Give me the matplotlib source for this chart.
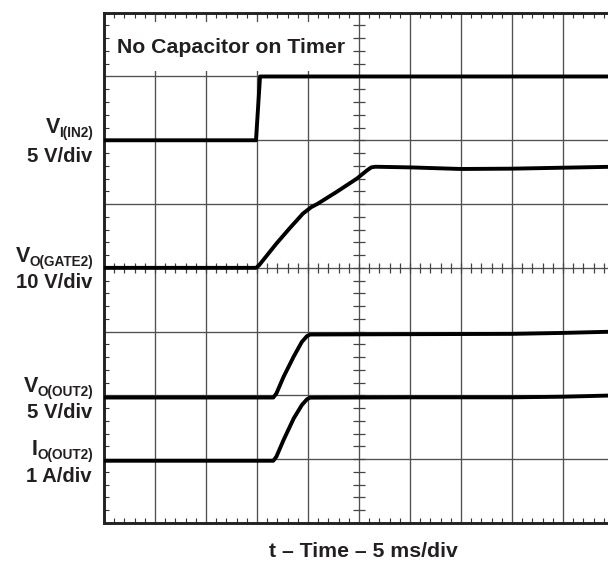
import numpy as np
import matplotlib
matplotlib.use('Agg')
import matplotlib.pyplot as plt
from matplotlib.ticker import MultipleLocator
from matplotlib.patches import Rectangle
from matplotlib.transforms import IdentityTransform

# ---- data: time in ms (5 ms/div), trace values in screen divisions ----
vin_t = [0, 14.9, 15.3, 50]
vin_y = [6.0, 6.0, 7.0, 7.0]

gate_t = [0, 14.9, 15.2, 15.6, 16.9, 18.2, 19.5, 20.3, 20.9, 22.8, 24.8, 25.8, 26.2, 26.6, 30, 35, 40, 45, 50]
gate_y = [4.0, 4.0, 4.04, 4.12, 4.38, 4.62, 4.85, 4.95, 5.0, 5.19, 5.40, 5.53, 5.575, 5.585, 5.575, 5.55, 5.555, 5.57, 5.585]

vout_t = [0, 16.6, 16.9, 17.6, 18.6, 19.4, 19.9, 20.2, 30, 40, 45, 50]
vout_y = [1.967, 1.967, 2.03, 2.29, 2.61, 2.84, 2.93, 2.955, 2.96, 2.965, 2.98, 3.0]

iout_t = [0, 16.6, 16.9, 17.6, 18.6, 19.4, 19.9, 20.2, 30, 40, 45, 50]
iout_y = [0.976, 0.976, 1.04, 1.30, 1.64, 1.85, 1.94, 1.965, 1.97, 1.97, 1.98, 2.0]

label_main = ["V", "V", "V", "I"]
label_sub = ["I(IN2)", "O(GATE2)", "O(OUT2)", "O(OUT2)"]
label_scale = ["5 V/div", "10 V/div", "5 V/div", "1 A/div"]
title_text = "No Capacitor on Timer"
xlabel_text = "t \u2013 Time \u2013 5 ms/div"

# ---- figure ----
W, H = 608, 561
plt.rcParams['font.family'] = ['Liberation Sans', 'DejaVu Sans']
fig = plt.figure(figsize=(W / 100, H / 100), dpi=100)
ax = fig.add_axes([104 / W, 1 - 523 / H, 510 / W, 510.3 / H])
ax.set_xlim(0, 50)
ax.set_ylim(0, 8)

grid_c = '#505050'
ink = '#231f20'

ax.set_xticks(np.arange(0, 51, 5))
ax.set_yticks(np.arange(0, 9, 1))
ax.xaxis.set_minor_locator(MultipleLocator(1))
ax.yaxis.set_minor_locator(MultipleLocator(0.2))
ax.grid(which='major', color=grid_c, lw=0.95)
ax.tick_params(which='major', length=0, labelbottom=False, labelleft=False)
ax.tick_params(which='minor', direction='in', length=3.8, width=0.8, color='#333333',
               top=True, bottom=True, left=True, right=False)
for s in ax.spines.values():
    s.set_linewidth(2.1)
    s.set_color('#222222')

# white box behind the title
ax.add_patch(Rectangle((0.0118, 0.8857), 0.474, 0.0961, transform=ax.transAxes,
                       facecolor='white', edgecolor='none', zorder=1.6))

# center graticule ticks
cx = np.arange(0, 50.01, 1)
cy = np.arange(0, 8.01, 0.2)
ax.plot(cx, np.full_like(cx, 4.0), ls='none', marker='|', ms=7.7, mew=0.9, color='#444444', zorder=1.8)
ax.plot(np.full_like(cy, 25.0), cy, ls='none', marker='_', ms=8.7, mew=0.9, color='#444444', zorder=1.8)

# traces
for t, y in [(vin_t, vin_y), (gate_t, gate_y), (vout_t, vout_y), (iout_t, iout_y)]:
    ax.plot(t, y, color='black', lw=2.8, solid_joinstyle='round', solid_capstyle='butt', zorder=3)

# title
ax.text((117 - 104) / 510, (523 - 52.7) / 510.3, title_text, transform=ax.transAxes,
        fontsize=15.3, fontweight='bold', color=ink, ha='left', va='baseline', zorder=4)

# left labels (pixel coordinates)
ident = IdentityTransform()
line1_base = [133, 261.7, 391.7, 455]
line2_base = [162, 287.5, 418.3, 481.7]
fig.canvas.draw()
renderer = fig.canvas.get_renderer()
for m, sub, sc, b1, b2 in zip(label_main, label_sub, label_scale, line1_base, line2_base):
    st = fig.text(93, H - b1 - 4, sub, transform=ident, fontsize=9.8, fontweight='bold',
                  color=ink, ha='right', va='baseline')
    bb = st.get_window_extent(renderer)
    fig.text(bb.x0 + 0.5, H - b1, m, transform=ident, fontsize=15.5, fontweight='bold',
             color=ink, ha='right', va='baseline')
    fig.text(92, H - b2, sc, transform=ident, fontsize=14.6, fontweight='bold',
             color=ink, ha='right', va='baseline')

# x label
fig.text(363, H - 557, xlabel_text, transform=ident, fontsize=15.3, fontweight='bold',
         color=ink, ha='center', va='baseline')

fig.savefig('out.png', dpi=100)
